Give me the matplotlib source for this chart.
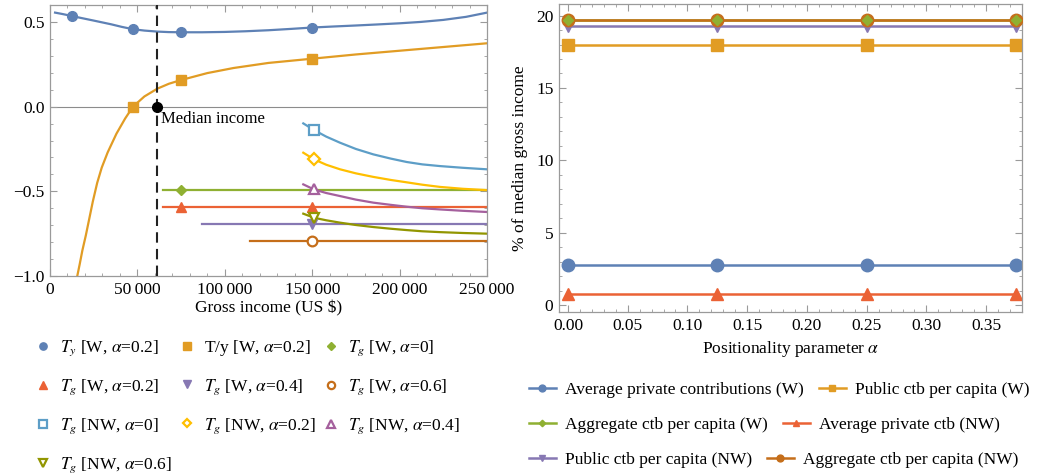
import matplotlib
matplotlib.use("Agg")
import matplotlib.pyplot as plt
from matplotlib.ticker import MultipleLocator, FuncFormatter

plt.rcParams['font.family'] = ['Liberation Serif', 'DejaVu Serif']
plt.rcParams['mathtext.fontset'] = 'stix'

# ── Mathematica-style colours ────────────────────────────────────────────────
BLUE, ORANGE, GREEN = '#5E81B5', '#E19C24', '#8FB032'
RED, PURPLE, BROWN = '#EB6235', '#8778B3', '#C56E1A'
LBLUE, YELLOW, MAGENTA, OLIVE = '#5D9EC7', '#FFBF00', '#A5609D', '#929600'
FRAME = '#9a9a9a'

# ── Left panel: tax rates vs gross income ────────────────────────────────────
ty_x = [2900, 7000, 12500, 18000, 25000, 30000, 35000, 41000, 47500, 54000,
        61400, 68000, 75000, 87000, 100000, 112000, 125000, 138000, 150000,
        162000, 175000, 187000, 200000, 212000, 225000, 238000, 250000]
ty_y = [0.555, 0.547, 0.535, 0.523, 0.508, 0.497, 0.486, 0.471, 0.457, 0.449,
        0.443, 0.440, 0.439, 0.439, 0.441, 0.445, 0.451, 0.459, 0.467,
        0.473, 0.479, 0.485, 0.492, 0.500, 0.512, 0.530, 0.555]
ty_mx = [12500, 47500, 75000, 150000]
ty_my = [0.535, 0.457, 0.439, 0.467]

tavg_x = [15600, 17000, 18500, 20500, 22500, 24500, 27000, 29600, 33000,
          38000, 43000, 47500, 54000, 61400, 68000, 75000, 90000, 105000,
          125000, 150000, 175000, 200000, 225000, 250000]
tavg_y = [-1.0, -0.93, -0.85, -0.76, -0.66, -0.56, -0.45, -0.36, -0.27,
          -0.16, -0.07, 0.0, 0.06, 0.106, 0.135, 0.157, 0.198, 0.228,
          0.258, 0.283, 0.308, 0.330, 0.352, 0.374]
tavg_mx = [47500, 75000, 150000]
tavg_my = [0.0, 0.157, 0.283]

# W-type flat rates (start income, level)
w_a0_x, w_a0_y = [64400, 250000], [-0.492, -0.492]
w_a2_x, w_a2_y = [64400, 250000], [-0.593, -0.593]
w_a4_x, w_a4_y = [86800, 250000], [-0.693, -0.693]
w_a6_x, w_a6_y = [114500, 250000], [-0.795, -0.795]

# NW-type declining rates
nw_x = [144900, 151000, 158000, 165900, 175000, 185000, 195000, 204100,
        213000, 223100, 236000, 249800]
nw_a0_y = [-0.099, -0.138, -0.177, -0.213, -0.250, -0.282, -0.307, -0.327,
           -0.341, -0.351, -0.361, -0.370]
nw_a2_y = [-0.272, -0.311, -0.343, -0.370, -0.394, -0.415, -0.433, -0.447,
           -0.461, -0.474, -0.485, -0.493]
nw_a4_y = [-0.459, -0.489, -0.510, -0.528, -0.549, -0.567, -0.580, -0.591,
           -0.600, -0.607, -0.615, -0.622]
nw_a6_y = [-0.632, -0.656, -0.671, -0.685, -0.699, -0.711, -0.721, -0.729,
           -0.736, -0.741, -0.746, -0.750]

median_income = 61400

# ── Right panel: contributions vs positionality parameter ────────────────────
alpha = [0.0, 0.125, 0.25, 0.375]
avg_priv_w = [2.75, 2.75, 2.75, 2.75]
public_w = [17.95, 17.95, 17.95, 17.95]
aggr_w = [19.68, 19.68, 19.68, 19.68]
avg_priv_nw = [0.75, 0.75, 0.75, 0.75]
public_nw = [19.25, 19.25, 19.25, 19.25]
aggr_nw = [19.72, 19.72, 19.72, 19.72]


def style_frame(ax):
    for s in ax.spines.values():
        s.set_color(FRAME)
        s.set_linewidth(0.9)
    ax.tick_params(which='both', direction='in', top=True, right=True,
                   color=FRAME, labelsize=12.5, pad=4)
    ax.tick_params(which='major', length=5)
    ax.tick_params(which='minor', length=2.5)


fig = plt.figure(figsize=(10.62, 4.76), dpi=100)

# ── Left ─────────────────────────────────────────────────────────────────────
ax1 = fig.add_axes([50 / 1062, 1 - 276 / 476, 437 / 1062, 271 / 476])
ax1.axhline(0, color='#8c8c8c', lw=0.8, zorder=1)

lw = 1.6
ax1.plot(ty_x, ty_y, color=BLUE, lw=lw)
ax1.plot(tavg_x, tavg_y, color=ORANGE, lw=lw)
ax1.plot(w_a0_x, w_a0_y, color=GREEN, lw=lw)
ax1.plot(w_a2_x, w_a2_y, color=RED, lw=lw)
ax1.plot(w_a4_x, w_a4_y, color=PURPLE, lw=lw)
ax1.plot(w_a6_x, w_a6_y, color=BROWN, lw=lw)
ax1.plot(nw_x, nw_a0_y, color=LBLUE, lw=lw)
ax1.plot(nw_x, nw_a2_y, color=YELLOW, lw=lw)
ax1.plot(nw_x, nw_a4_y, color=MAGENTA, lw=lw)
ax1.plot(nw_x, nw_a6_y, color=OLIVE, lw=lw)

ms = 7
h = []
h.append(ax1.plot(ty_mx, ty_my, 'o', color=BLUE, ms=ms,
                  label=r'$T_y$ [W, $\alpha$=0.2]')[0])
h.append(ax1.plot(tavg_mx, tavg_my, 's', color=ORANGE, ms=ms,
                  label=r'T/y [W, $\alpha$=0.2]')[0])
h.append(ax1.plot([75000], [w_a0_y[0]], 'D', color=GREEN, ms=5,
                  label=r'$T_g$ [W, $\alpha$=0]')[0])
h.append(ax1.plot([75000, 150000], [w_a2_y[0]] * 2, '^', color=RED, ms=ms,
                  label=r'$T_g$ [W, $\alpha$=0.2]')[0])
h.append(ax1.plot([150000], [w_a4_y[0]], 'v', color=PURPLE, ms=ms,
                  label=r'$T_g$ [W, $\alpha$=0.4]')[0])
h.append(ax1.plot([150000], [w_a6_y[0]], 'o', color=BROWN, mfc='white',
                  mew=1.6, ms=ms, label=r'$T_g$ [W, $\alpha$=0.6]')[0])
h.append(ax1.plot([nw_x[1]], [nw_a0_y[1]], 's', color=LBLUE, mfc='white',
                  mew=1.6, ms=ms, label=r'$T_g$ [NW, $\alpha$=0]')[0])
h.append(ax1.plot([nw_x[1]], [nw_a2_y[1]], 'D', color=YELLOW, mfc='white',
                  mew=1.6, ms=6, label=r'$T_g$ [NW, $\alpha$=0.2]')[0])
h.append(ax1.plot([nw_x[1]], [nw_a4_y[1]], '^', color=MAGENTA, mfc='white',
                  mew=1.6, ms=ms, label=r'$T_g$ [NW, $\alpha$=0.4]')[0])
h.append(ax1.plot([nw_x[1]], [nw_a6_y[1]], 'v', color=OLIVE, mfc='white',
                  mew=1.6, ms=ms, label=r'$T_g$ [NW, $\alpha$=0.6]')[0])

ax1.axvline(median_income, color='#222222', lw=1.5, ls=(0, (5, 3)), zorder=3)
ax1.plot([median_income], [0], 'o', color='black', ms=7, zorder=4)
ax1.text(median_income + 2000, -0.025, 'Median income', fontsize=12,
         va='top', ha='left')

ax1.set_xlim(0, 250000)
ax1.set_ylim(-1.0, 0.6)
ax1.xaxis.set_major_locator(MultipleLocator(50000))
ax1.xaxis.set_minor_locator(MultipleLocator(10000))
ax1.yaxis.set_major_locator(MultipleLocator(0.5))
ax1.yaxis.set_minor_locator(MultipleLocator(0.1))
ax1.xaxis.set_major_formatter(
    FuncFormatter(lambda v, p: f"{int(v):,}".replace(",", "\u2009")))
ax1.yaxis.set_major_formatter(
    FuncFormatter(lambda v, p: f"{v:.1f}".replace("-", "\u2212")))
style_frame(ax1)
ax1.set_xlabel('Gross income (US $)', fontsize=12.5, labelpad=2)

order1 = [0, 3, 6, 9, 1, 4, 7, 2, 5, 8]
fig.legend([h[i] for i in order1], [h[i].get_label() for i in order1],
           ncol=3, loc='upper left', bbox_to_anchor=(27 / 1062, 1 - 329 / 476),
           frameon=False, fontsize=12.5, handlelength=0.8, handletextpad=0.6,
           columnspacing=0.45, labelspacing=1.12, markerscale=0.75,
           borderpad=0)

# ── Right ────────────────────────────────────────────────────────────────────
ax2 = fig.add_axes([559 / 1062, 1 - 312 / 476, 463 / 1062, 308 / 476])
rms = 9
rlw = 1.8
r = []
r.append(ax2.plot(alpha, avg_priv_w, '-o', color=BLUE, ms=rms, lw=rlw,
                  label='Average private contributions (W)')[0])
r.append(ax2.plot(alpha, public_w, '-s', color=ORANGE, ms=rms, lw=rlw,
                  label='Public ctb per capita (W)')[0])
r.append(ax2.plot(alpha, aggr_w, '-D', color=GREEN, ms=6, lw=rlw, zorder=2,
                  label='Aggregate ctb per capita (W)')[0])
r.append(ax2.plot(alpha, avg_priv_nw, '-^', color=RED, ms=rms, lw=rlw,
                  label='Average private ctb (NW)')[0])
r.append(ax2.plot(alpha, public_nw, '-v', color=PURPLE, ms=rms, lw=rlw,
                  label='Public ctb per capita (NW)')[0])
r.append(ax2.plot(alpha, aggr_nw, '-o', color=BROWN, ms=rms, lw=rlw, zorder=3,
                  label='Aggregate ctb per capita (NW)')[0])
# green diamonds show through the brown circles
ax2.plot(alpha, aggr_w, 'D', color=GREEN, ms=5, zorder=4)

ax2.set_xlim(-0.0075, 0.380)
ax2.set_ylim(-0.48, 20.8)
ax2.xaxis.set_major_locator(MultipleLocator(0.05))
ax2.xaxis.set_minor_locator(MultipleLocator(0.01))
ax2.yaxis.set_major_locator(MultipleLocator(5))
ax2.yaxis.set_minor_locator(MultipleLocator(1))
ax2.xaxis.set_major_formatter(FuncFormatter(lambda v, p: f"{v:.2f}"))
style_frame(ax2)
ax2.set_xlabel(r'Positionality parameter $\alpha$', fontsize=12.5, labelpad=4)
ax2.set_ylabel('% of median gross income', fontsize=12.5, labelpad=6)

# Mathematica flows the legend row by row, so one legend per row
row_y = [390, 425, 460]
for k, yy in enumerate(row_y):
    pair = r[2 * k:2 * k + 2]
    fig.legend(pair, [p.get_label() for p in pair],
               ncol=2, loc='center left', bbox_to_anchor=(520 / 1062, 1 - yy / 476),
               frameon=False, fontsize=12.5, handlelength=1.55,
               handletextpad=0.55, columnspacing=0.85, markerscale=0.55,
               borderpad=0)

fig.savefig('out.png', dpi=100)
